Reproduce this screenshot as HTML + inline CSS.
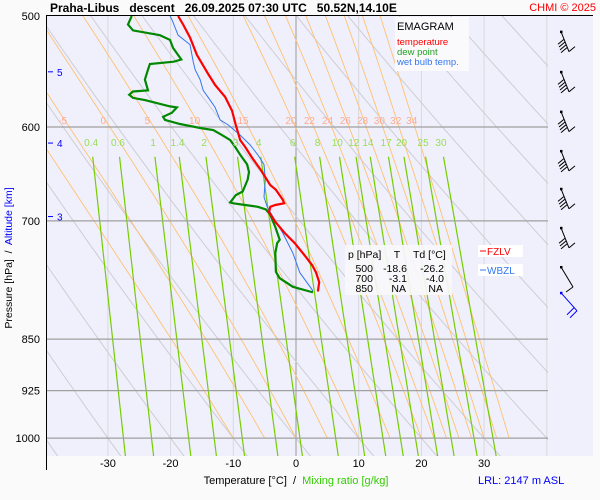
<!DOCTYPE html>
<html><head><meta charset="utf-8"><style>
body{margin:0;background:#fafafa;}
svg{display:block;font-family:"Liberation Sans",sans-serif;}
</style></head><body>
<svg id="c" width="600" height="500" xmlns="http://www.w3.org/2000/svg">
<rect x="0" y="0" width="600" height="500" fill="#fafafa"/>
<rect x="46" y="16" width="547" height="440" fill="#f0f0fc"/>
<defs><clipPath id="pc"><rect x="46" y="16" width="502" height="440"/></clipPath></defs>
<g id="grid" clip-path="url(#pc)"></g>
<g id="series" clip-path="url(#pc)"></g>
<g id="labels"></g>
<line x1="46" y1="15.5" x2="593" y2="15.5" stroke="#000"/>
<line x1="46.5" y1="16" x2="46.5" y2="470" stroke="#000"/>
<text x="50" y="12" font-size="12" font-weight="bold" xml:space="preserve">Praha-Libus   descent   26.09.2025 07:30 UTC   50.52N,14.10E</text>
<text x="596" y="11" font-size="11" fill="#f00" text-anchor="end">CHMI © 2025</text>
<text transform="translate(12,258) rotate(-90)" font-size="10.5" text-anchor="middle" xml:space="preserve"><tspan>Pressure [hPa]  /  </tspan><tspan fill="#0000ff">Altitude [km]</tspan></text>
<text x="296" y="484" font-size="11" text-anchor="middle" xml:space="preserve"><tspan>Temperature [°C]  /  </tspan><tspan fill="#33cc00">Mixing ratio [g/kg]</tspan></text>
<text x="478" y="484" font-size="11" fill="#0000ff">LRL: 2147 m ASL</text>
<g>
<rect x="395" y="17" width="74" height="54" fill="#fafafc"/>
<text x="397" y="30" font-size="11">EMAGRAM</text>
<text x="397" y="45" font-size="9.5" fill="#ff0000">temperature</text>
<text x="397" y="55" font-size="9.5" fill="#22a022">dew point</text>
<text x="397" y="65" font-size="9.5" fill="#3377ee">wet bulb temp.</text>
</g>
<g font-size="10.5">
<rect x="345" y="245" width="107" height="50" fill="#f8f8fc" opacity="0.9"/>
<text x="348" y="258">p [hPa]</text><text x="397" y="258" text-anchor="middle">T</text><text x="413" y="258">Td [°C]</text>
<text x="373" y="272" text-anchor="end">500</text><text x="407" y="272" text-anchor="end">-18.6</text><text x="444" y="272" text-anchor="end">-26.2</text>
<text x="373" y="282" text-anchor="end">700</text><text x="407" y="282" text-anchor="end">-3.1</text><text x="444" y="282" text-anchor="end">-4.0</text>
<text x="373" y="292" text-anchor="end">850</text><text x="406" y="292" text-anchor="end">NA</text><text x="443" y="292" text-anchor="end">NA</text>
</g>
<g><rect x="478" y="245" width="45" height="12" fill="#fff"/><line x1="480" y1="251" x2="486" y2="251" stroke="#f00"/><text x="487" y="255" font-size="10" fill="#f00">FZLV</text></g>
<g><rect x="478" y="264" width="45" height="12" fill="#fff"/><line x1="480" y1="270" x2="486" y2="270" stroke="#3377ee"/><text x="487" y="274" font-size="10" fill="#3377ee">WBZL</text></g>
<g id="barbs"></g>
</svg>
<script>
// ---- data ----
const tempP=[500,507,518,533,550,560,571,584,598,613,620,631,644,660,665,676,680,682,684,690,701,714,726,741,753,762,774,786];
const tempT=[-18.8,-18.0,-16.9,-15.8,-14.0,-12.9,-11.3,-10.2,-9.6,-8.9,-8.1,-7.0,-5.6,-4.1,-3.2,-2.1,-1.9,-3.3,-4.1,-4.3,-3.3,-1.8,-0.2,1.4,2.6,3.2,3.7,3.5];
const dewP=[500,507,512,516,520,527,537,539,541,546,555,565,566,569,572,574,580,581,586,590,593,597,601,603,608,613,620,628,638,646,654,667,671,679,680,682,684,687,693,707,722,726,738,761,769,780,786,787];
const dewT=[-26.2,-26.8,-26.0,-21.7,-20.1,-19.6,-18.3,-19.5,-23.3,-23.6,-24.1,-23.6,-26.0,-26.6,-26.0,-24.1,-20.1,-19.0,-19.8,-21.2,-20.9,-18.5,-15.3,-13.2,-11.8,-10.5,-9.7,-8.9,-7.8,-7.5,-7.7,-8.5,-9.6,-10.5,-10.0,-8.1,-6.1,-4.8,-4.1,-3.3,-2.6,-3.0,-3.3,-3.2,-2.6,-0.5,2.2,2.7];
const wbP=[500,503,516,524,539,546,555,565,574,581,593,598,608,618,628,638,654,673,684,695,714,738,762,784,786];
const wbT=[-20.1,-19.8,-18.8,-16.9,-16.4,-16.1,-15.3,-14.8,-13.7,-12.9,-12.1,-10.8,-8.9,-7.3,-6.1,-5.1,-4.9,-5.1,-4.6,-3.7,-2.1,-0.5,0.6,2.6,2.7];
const pressureTicks=[500,600,700,850,925,1000];
const tempTicks=[-30,-20,-10,0,10,20,30];
const altTicks=[5,4,3];
const altTickP=[548,616,695];
const dryTheta=[-50,-40,-30,-20,-10,0,10,20,30,40,50,60,70,80,90,100];
const moistThetaW=[-10,-5,0,5,10,15,20,22,24,26,28,30,32,34];
const moistLabels=[-5,0,5,10,15,20,22,24,26,28,30,32,34];
const mixRatios=[0.4,0.6,1,1.4,2,3,4,6,8,10,12,14,17,20,25,30];
const barbP=[513,548,585,624,664,708,755,806];

// ---- axes ----
const NS="http://www.w3.org/2000/svg";
const X=t=>296+6.27*t;
const Y=p=>16+609*Math.log(p/500);
function el(parent,tag,attrs){const e=document.createElementNS(NS,tag);for(const k in attrs)e.setAttribute(k,attrs[k]);parent.appendChild(e);return e;}
const grid=document.getElementById('grid'),ser=document.getElementById('series'),lab=document.getElementById('labels'),barbs=document.getElementById('barbs');
function poly(parent,pts,stroke,w){return el(parent,'polyline',{points:pts.map(q=>q[0].toFixed(1)+','+q[1].toFixed(1)).join(' '),fill:'none',stroke:stroke,'stroke-width':w});}

// isotherms
for(let t=-40;t<=40;t+=10){const l=el(grid,'line',{x1:X(t),y1:16,x2:X(t),y2:456,stroke:t===0?'#999':'#d8d8dc','stroke-width':1});

}
// dry adiabats (gray)
dryTheta.forEach(th=>{const pts=[];for(let p=1035;p>=495;p-=5){pts.push([X((th+273.15)*Math.pow(p/1000,0.286)-273.15),Y(p)]);}
const l=poly(grid,pts,'#cdcdd2',1);

});
// moist adiabats (orange)
function es(t){return 6.112*Math.exp(17.67*t/(t+243.5));}
function moistT(tw,pTarget){let T=tw+273.15;const f=(p,T)=>{const e=es(T-273.15),r=0.622*e/(p-e),L=2.5e6;return (287*T+L*r)/(1004+L*L*r*0.622/(287*T*T))/p;};
 const pts=[];for(let p=1000;p>=pTarget;p-=2){pts.push([X(T-273.15),Y(p)]);T-=f(p,T)*2;}return pts;}
moistThetaW.forEach(tw=>{const l=poly(grid,moistT(tw,495),'#ffc070',0.9);

});
moistLabels.forEach(tw=>{const pts=moistT(tw,590);const q=pts[pts.length-1];
const t=el(lab,'text',{x:q[0],y:124,'font-size':10,fill:'#ffaa90','text-anchor':'middle'});t.textContent=String(tw);

});
// mixing ratio
function tdFromW(w,p){const e=w*p/(622+w);const x=Math.log(e/6.112);return 243.5*x/(17.67-x);}
mixRatios.forEach(w=>{const l=el(grid,'line',{x1:X(tdFromW(w,630)),y1:Y(630),x2:X(tdFromW(w,1032)),y2:Y(1032),stroke:'#77cc00','stroke-width':1.2});


const t=el(lab,'text',{x:X(tdFromW(w,615)),y:146,'font-size':10,fill:'#99dd55','text-anchor':'middle'});t.textContent=String(w);

});
// isobars
pressureTicks.forEach(p=>{if(p>500){const l=el(grid,'line',{x1:46,y1:Y(p),x2:548,y2:Y(p),stroke:'#a0a0a0','stroke-width':1.2});

}
const t=el(lab,'text',{x:40,y:Y(p)+4,'font-size':11,'text-anchor':'end'});t.textContent=String(p);

});
tempTicks.forEach(v=>{const t=el(lab,'text',{x:X(v),y:467,'font-size':11,'text-anchor':'middle'});t.textContent=String(v);

});
altTicks.forEach((a,i)=>{const y=Y(altTickP[i]);const l=el(lab,'line',{x1:48,y1:y,x2:53,y2:y,stroke:'#0000ff'});


const t=el(lab,'text',{x:57,y:y+4,'font-size':10,fill:'#0000ff'});t.textContent=String(a);

});
// series
const wb=poly(ser,wbP.map((p,i)=>[X(wbT[i]),Y(p)]),'#3377ee',1);


const dw=poly(ser,dewP.map((p,i)=>[X(dewT[i]),Y(p)]),'#008800',2.2);


const tl=poly(ser,tempP.map((p,i)=>[X(tempT[i]),Y(p)]),'#ff0000',2.2);


// wind barbs
barbP.forEach((p,i)=>{const y=Y(p);const g=el(barbs,'g',{});


const last=i===7,c=last?'#0000ff':'#000';
if(last){const y0=y-14;el(g,'rect',{x:560,y:y0-1,width:2.5,height:2.5,fill:c});el(g,'line',{x1:561,y1:y0,x2:577,y2:y0+18,stroke:c});el(g,'line',{x1:577,y1:y0+18,x2:570,y2:y0+25,stroke:c});el(g,'line',{x1:574,y1:y0+15,x2:567,y2:y0+22,stroke:c});return;}
el(g,'rect',{x:560,y:y-1,width:2.5,height:2.5,fill:c});
if(i===6){el(g,'line',{x1:561,y1:y,x2:573,y2:y+20,stroke:c});el(g,'line',{x1:573,y1:y+20,x2:566,y2:y+25,stroke:c});return;}
el(g,'line',{x1:561,y1:y,x2:569,y2:y+20,stroke:c});
const n=i===5?3:4;for(let k=0;k<n;k++){const bx=569-k*1.0,by=y+20-k*2.8;el(g,'line',{x1:bx-2,y1:by-4,x2:bx-8,y2:by+1,stroke:c});}
el(g,'line',{x1:569,y1:y+20,x2:575,y2:y+15,stroke:c});});
</script>
</body></html>
